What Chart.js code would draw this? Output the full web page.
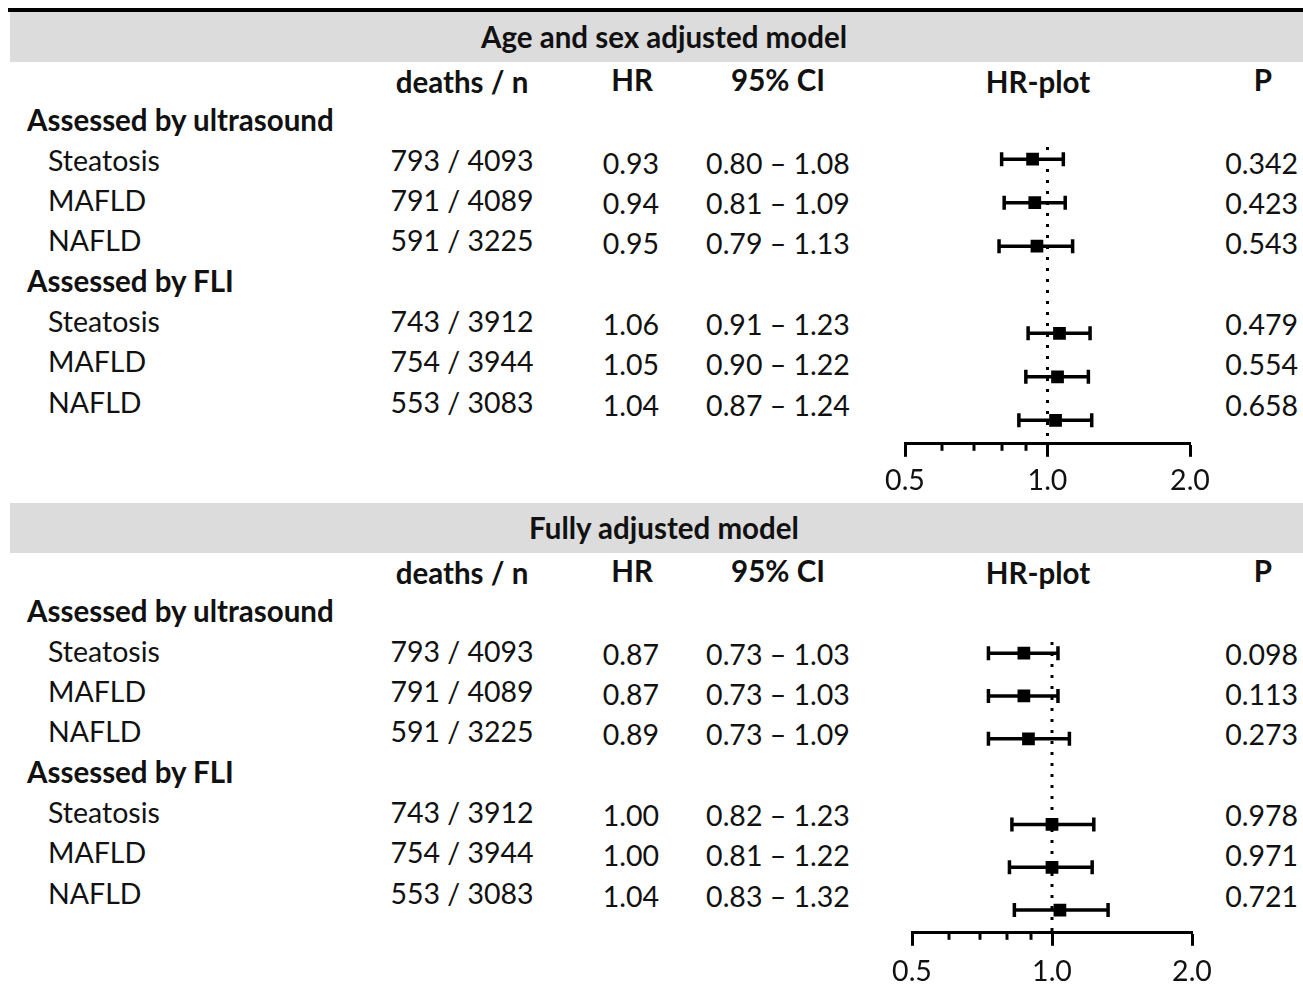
<!DOCTYPE html>
<html>
<head>
<meta charset="utf-8">
<script src="https://cdn.jsdelivr.net/npm/chart.js@4.4.1/dist/chart.umd.min.js"></script>
<style>
  body { margin: 0; background: #fff; font-family: Lato, "Noto Sans", sans-serif; color: #111; }
  #page { position: relative; width: 1303px; height: 992px; overflow: hidden; }
  .rule { position: absolute; left: 8px; width: 1295px; height: 4px; background: #000; }
  .band { position: absolute; left: 10px; width: 1293px; height: 50px; background: #dcdcdc; }
  .t { position: absolute; white-space: nowrap; font-size: 28.5px; line-height: 1; }
  .b { font-weight: bold; font-size: 29.5px; }
  canvas { position: absolute; }
</style>
</head>
<body>
<div id="page"></div>
<script>
// ---- data ----
const GROUPS = ['Assessed by ultrasound', 'Assessed by FLI'];
const SUBGROUPS = ['Steatosis', 'MAFLD', 'NAFLD'];
const DEATHS = [793, 791, 591, 743, 754, 553];
const N = [4093, 4089, 3225, 3912, 3944, 3083];

// Age and sex adjusted model
const AGE_HR = [0.93, 0.94, 0.95, 1.06, 1.05, 1.04];
const AGE_LO = [0.80, 0.81, 0.79, 0.91, 0.90, 0.87];
const AGE_HI = [1.08, 1.09, 1.13, 1.23, 1.22, 1.24];
const AGE_P = ['0.342', '0.423', '0.543', '0.479', '0.554', '0.658'];

// Fully adjusted model
const FULL_HR = [0.87, 0.87, 0.89, 1.00, 1.00, 1.04];
const FULL_LO = [0.73, 0.73, 0.73, 0.82, 0.81, 0.83];
const FULL_HI = [1.03, 1.03, 1.09, 1.23, 1.22, 1.32];
const FULL_P = ['0.098', '0.113', '0.273', '0.978', '0.971', '0.721'];

const MAJOR_TICKS = [0.5, 1.0, 2.0];
const MINOR_TICKS = [0.6, 0.7, 0.8, 0.9];
const HEADERS = ['deaths / n', 'HR', '95% CI', 'HR-plot', 'P'];

const page = document.getElementById('page');

function put(text, x, y, align, bold) {
    const el = document.createElement('div');
    el.className = 't' + (bold ? ' b' : '');
    el.textContent = text;
    el.style.left = x + 'px';
    el.style.top = y + 'px';
    const tx = align === 'center' ? '-50%' : (align === 'right' ? '-100%' : '0');
    el.style.transform = 'translate(' + tx + ',-50%)';
    page.appendChild(el);
}

// dibuja las marcas menores del eje x
const minorTicks = {
    id: 'minorTicks',
    afterDraw(chart) {
        const sc = chart.scales.x, ctx = chart.ctx;
        ctx.save();
        ctx.strokeStyle = '#000';
        ctx.lineWidth = 3;
        MINOR_TICKS.forEach(v => {
            const px = Math.round(sc.getPixelForValue(v));
            ctx.beginPath();
            ctx.moveTo(px, sc.top);
            ctx.lineTo(px, sc.top + 7);
            ctx.stroke();
        });
        ctx.restore();
    }
};

function panel(off, title, hr, lo, hi, p, plot) {
    // banda de titulo
    if (off === 0) {
        const r = document.createElement('div');
        r.className = 'rule';
        r.style.top = '8px';
        page.appendChild(r);
    }
    const band = document.createElement('div');
    band.className = 'band';
    band.style.top = (12 + off) + 'px';
    page.appendChild(band);
    put(title, 664, 37 + off, 'center', true);

    // encabezados
    put(HEADERS[0], 462, 82 + off, 'center', true);
    put(HEADERS[1], 632, 80 + off, 'center', true);
    put(HEADERS[2], 778, 80 + off, 'center', true);
    put(HEADERS[3], 1038, 82 + off, 'center', true);
    put(HEADERS[4], 1263, 80 + off, 'center', true);

    // filas
    const rows = [];
    let y = 120 + off;
    GROUPS.forEach((g, gi) => {
        put(g, 27, y, 'left', true);
        y += 40.5;
        SUBGROUPS.forEach((s, si) => {
            const i = gi * SUBGROUPS.length + si;
            put(s, 48, y - 1, 'left', false);
            put(DEATHS[i] + ' / ' + N[i], 462, y - 1, 'center', false);
            put(hr[i].toFixed(2), 631, y + 2, 'center', false);
            put(lo[i].toFixed(2) + ' \u2013 ' + hi[i].toFixed(2), 778, y + 2, 'center', false);
            put(p[i], 1298, y + 2, 'right', false);
            rows.push(gi * (SUBGROUPS.length + 1) + si);
            y += 40.3;
        });
    });

    // grafico HR
    const canvas = document.createElement('canvas');
    canvas.width = plot.width;
    canvas.height = plot.height;
    canvas.style.left = plot.left + 'px';
    canvas.style.top = plot.top + 'px';
    page.appendChild(canvas);

    const datasets = [{
        type: 'scatter',
        data: hr.map((v, i) => ({ x: v, y: rows[i] })),
        pointStyle: 'rect',
        pointRadius: 9,
        backgroundColor: '#000',
        borderWidth: 0
    }];
    hr.forEach((v, i) => {
        datasets.push({
            type: 'line',
            data: [{ x: lo[i], y: rows[i] }, { x: hi[i], y: rows[i] }],
            borderColor: '#000',
            borderWidth: 3.5,
            pointStyle: 'line',
            rotation: 90,
            pointRadius: 7,
            pointBorderWidth: 3.5,
            pointBorderColor: '#000'
        });
    });
    datasets.push({
        type: 'line',
        data: [{ x: 1, y: plot.ymin }, { x: 1, y: plot.ymax }],
        borderColor: '#000',
        borderWidth: 3,
        borderDash: [3, 8],
        pointRadius: 0
    });

    new Chart(canvas, {
        type: 'scatter',
        data: { datasets: datasets },
        options: {
            responsive: false,
            animation: false,
            layout: { padding: { left: 45, right: 40, top: 17, bottom: 0 } },
            plugins: { legend: { display: false }, tooltip: { enabled: false } },
            scales: {
                x: {
                    type: 'logarithmic',
                    min: 0.5,
                    max: 2,
                    afterBuildTicks: sc => { sc.ticks = MAJOR_TICKS.map(v => ({ value: v })); },
                    ticks: {
                        callback: v => Number(v).toFixed(1),
                        color: '#111',
                        padding: plot.tickPad,
                        autoSkip: false,
                        maxRotation: 0,
                        font: { family: 'Lato', size: 28.5 }
                    },
                    grid: { drawOnChartArea: false, tickLength: 13, tickWidth: 3, tickColor: '#000' },
                    border: { display: true, width: 3, color: '#000' }
                },
                y: {
                    type: 'linear',
                    reverse: true,
                    min: plot.ymin,
                    max: plot.ymax,
                    display: false
                }
            }
        },
        plugins: [minorTicks]
    });
}

panel(0, 'Age and sex adjusted model', AGE_HR, AGE_LO, AGE_HI, AGE_P,
    { left: 860, top: 130, width: 370, height: 375, ymin: -0.28, ymax: 6.54, tickPad: 7 });
panel(491, 'Fully adjusted model', FULL_HR, FULL_LO, FULL_HI, FULL_P,
    { left: 867, top: 625, width: 365, height: 373, ymin: -0.26, ymax: 6.53, tickPad: 9 });
</script>
</body>
</html>
